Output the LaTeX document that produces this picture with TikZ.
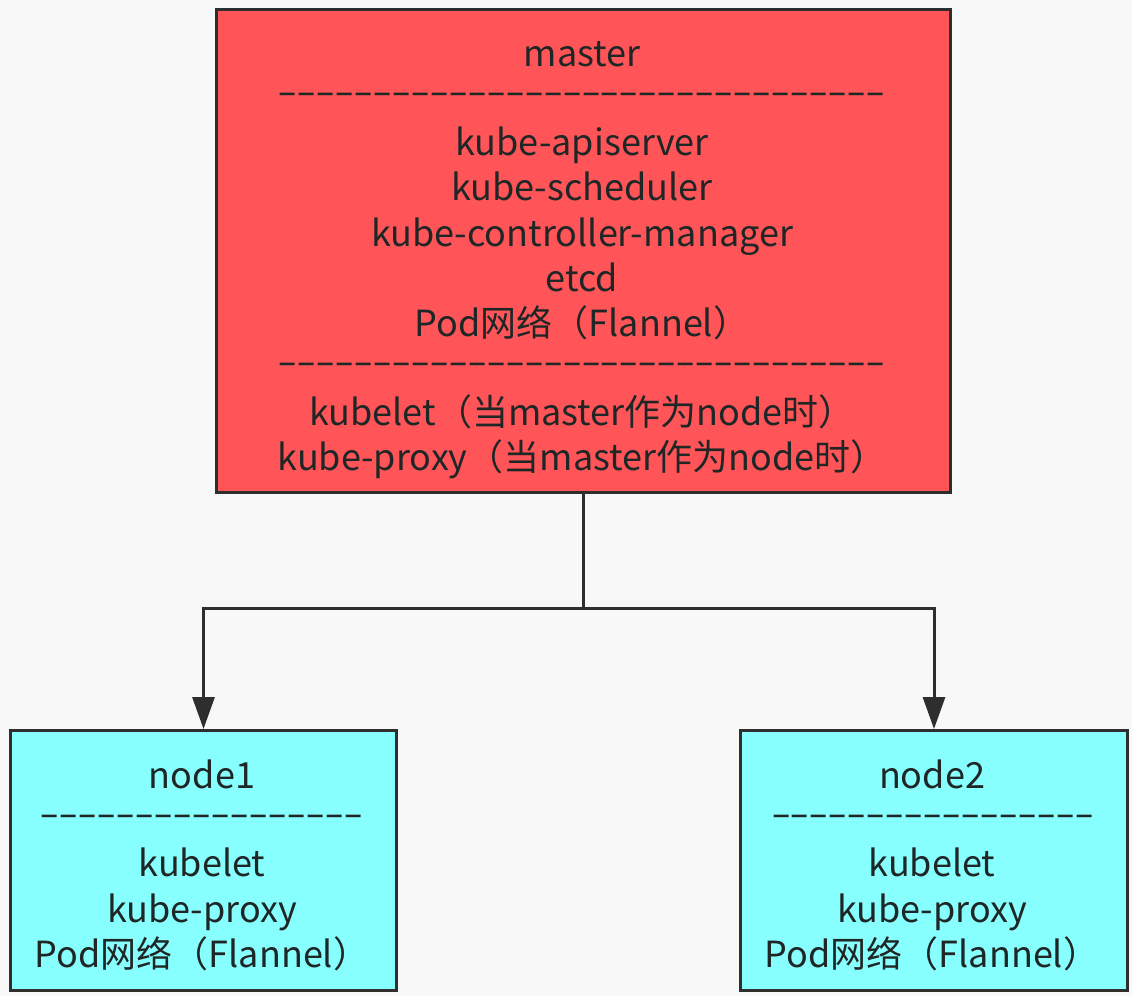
\documentclass[tikz,border=0pt]{standalone}
\usepackage{fontspec}
\usepackage{graphicx}
\setmainfont{Noto Sans CJK SC}
\usetikzlibrary{arrows.meta}
\definecolor{bg}{HTML}{F8F8F8}
\definecolor{masterfill}{HTML}{FF5558}
\definecolor{nodefill}{HTML}{88FFFF}
\definecolor{edge}{HTML}{2E2E2E}
\definecolor{ink}{HTML}{1F2626}
\newcommand{\sepline}[2]{\resizebox{#1}{\height}{\foreach\i in {1,...,#2}{-\kern-0.8pt}}}
\tikzset{
  box/.style={draw=edge, line width=3pt, inner sep=0pt, anchor=north west},
  txt/.style={text=ink, font=\fontsize{36}{45}\selectfont, inner sep=0pt, anchor=base},
  sep/.style={text=ink, font=\fontsize{36}{45}\selectfont, inner sep=0pt, anchor=center},
  conn/.style={draw=edge, line width=3pt, -{Triangle[length=32pt,width=22pt]}},
}
\begin{document}
\begin{tikzpicture}[x=1pt,y=-1pt]
\useasboundingbox[fill=bg] (0,0) rectangle (1132,996);
% boxes
\node[box, fill=masterfill, minimum width=734pt, minimum height=483pt] (master) at (215,8) {};
\node[box, fill=nodefill, minimum width=386pt, minimum height=260pt] (node1) at (9,729) {};
\node[box, fill=nodefill, minimum width=387pt, minimum height=260pt] (node2) at (739,729) {};
% master text
\node[txt] (mt1) at (582,66) {master};
\node[sep] (ms1) at (581,99) {\sepline{606pt}{32}};
\node[txt] (mt2) at (582,155) {kube-apiserver};
\node[txt] (mt3) at (582,200) {kube-scheduler};
\node[txt] (mt4) at (582,246) {kube-controller-manager};
\node[txt] (mt5) at (582,291) {etcd};
\node[txt] (mt6) at (582,336) {Pod网络（Flannel）};
\node[sep] (ms2) at (581,369) {\sepline{606pt}{32}};
\node[txt] (mt7) at (582,425) {kubelet（当master作为node时）};
\node[txt] (mt8) at (582,470) {kube-proxy（当master作为node时）};
% node1 text
\node[txt] (at1) at (202,788) {node1};
\node[sep] (as1) at (201,821) {\sepline{322pt}{17}};
\node[txt] (at2) at (202,876) {kubelet};
\node[txt] (at3) at (202,922) {kube-proxy};
\node[txt] (at4) at (202,967) {Pod网络（Flannel）};
% node2 text
\node[txt] (bt1) at (932,788) {node2};
\node[sep] (bs1) at (932,821) {\sepline{322pt}{17}};
\node[txt] (bt2) at (932,876) {kubelet};
\node[txt] (bt3) at (932,922) {kube-proxy};
\node[txt] (bt4) at (932,967) {Pod网络（Flannel）};
% connectors
\coordinate (split) at (582,608);
\draw[conn] (master.south) |- (split) -| (node1.north);
\draw[conn] (master.south) |- (split) -| (node2.north);
\end{tikzpicture}
\end{document}
